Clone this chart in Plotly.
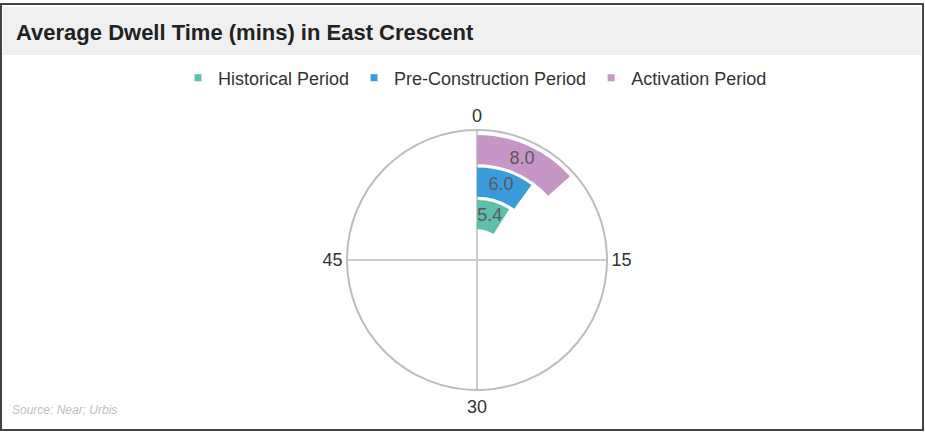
import plotly.graph_objects as go

# ---- data ----
series_names = ["Historical Period", "Pre-Construction Period", "Activation Period"]
dwell_mins = [5.4, 6.0, 8.0]
angular_tick_mins = [0, 15, 30, 45]
angular_tick_labels = ["0", "15", "30", "45"]
title_text = "Average Dwell Time (mins) in East Crescent"
source_text = "Source: Near; Urbis"

# ---- style ----
colors = ["#5FBFAD", "#3A9BDA", "#C697C6"]
FULL_SCALE_MINS = 60
DEG_PER_MIN = 360 / FULL_SCALE_MINS
RING_GAP = 0.05
RING_THICK = 0.9
FONT = "Liberation Sans"
W, H = 925, 432

fig = go.Figure()

for i, (name, val, col) in enumerate(zip(series_names, dwell_mins, colors)):
    base = (i + 1) - RING_GAP
    fig.add_trace(go.Barpolar(
        theta=[val * DEG_PER_MIN / 2],
        width=[val * DEG_PER_MIN],
        r=[RING_THICK],
        base=[base],
        marker=dict(color=col, line=dict(width=0)),
        showlegend=False,
        name=name,
    ))
    fig.add_trace(go.Scatterpolar(
        theta=[val * DEG_PER_MIN / 2],
        r=[base + RING_THICK / 2],
        mode="text",
        text=[f"{val:.1f}"],
        textfont=dict(family=FONT, size=18, color="#595959"),
        showlegend=False,
        hoverinfo="skip",
    ))

# legend entries with small square markers
for name, col in zip(series_names, colors):
    fig.add_trace(go.Scatterpolar(
        r=[None], theta=[None], mode="markers", name=name,
        marker=dict(symbol="square", size=7, color=col),
        showlegend=True,
    ))

fig.update_layout(
    width=W, height=H,
    margin=dict(l=0, r=0, t=0, b=0),
    paper_bgcolor="white",
    font=dict(family=FONT, color="#333333"),
    polar=dict(
        domain=dict(x=[347 / W, 607 / W], y=[1 - 390 / H, 1 - 130 / H]),
        bgcolor="white",
        angularaxis=dict(
            direction="clockwise", rotation=90, thetaunit="degrees",
            tickvals=[m * DEG_PER_MIN for m in angular_tick_mins],
            ticktext=angular_tick_labels,
            tickfont=dict(family=FONT, size=18, color="#333333"),
            showline=True, linecolor="#BDBDBD", linewidth=2,
            showgrid=True, gridcolor="#CCCCCC", gridwidth=1.5,
            ticks="",
        ),
        radialaxis=dict(visible=False, range=[0, 4]),
    ),
    legend=dict(
        orientation="h", x=475 / W, xanchor="center",
        y=1 - 78 / H, yanchor="middle",
        font=dict(family=FONT, size=18, color="#333333"),
        itemwidth=30, bgcolor="rgba(0,0,0,0)",
    ),
    shapes=[
        dict(type="rect", xref="paper", yref="paper",
             x0=3 / W, x1=921 / W, y0=1 - 55 / H, y1=1 - 7 / H,
             fillcolor="#F0F0F0", line=dict(width=0), layer="below"),
        dict(type="rect", xref="paper", yref="paper",
             x0=1 / W, x1=923 / W, y0=1 - 430 / H, y1=1 - 4 / H,
             line=dict(color="#444444", width=2), fillcolor="rgba(0,0,0,0)"),
    ],
    annotations=[
        dict(text=f"<b>{title_text}</b>", xref="paper", yref="paper",
             x=14 / W, y=1 - 32 / H, xanchor="left", yanchor="middle",
             showarrow=False, font=dict(family=FONT, size=22, color="#222222")),
        dict(text=f"<i>{source_text}</i>", xref="paper", yref="paper",
             x=10 / W, y=1 - 410 / H, xanchor="left", yanchor="middle",
             showarrow=False, font=dict(family=FONT, size=12, color="#C0C0C0")),
    ],
)

fig.write_html(
    "out.html",
    config={"displayModeBar": False},
    post_script="document.body.style.margin='0';document.body.style.overflow='hidden';",
)
